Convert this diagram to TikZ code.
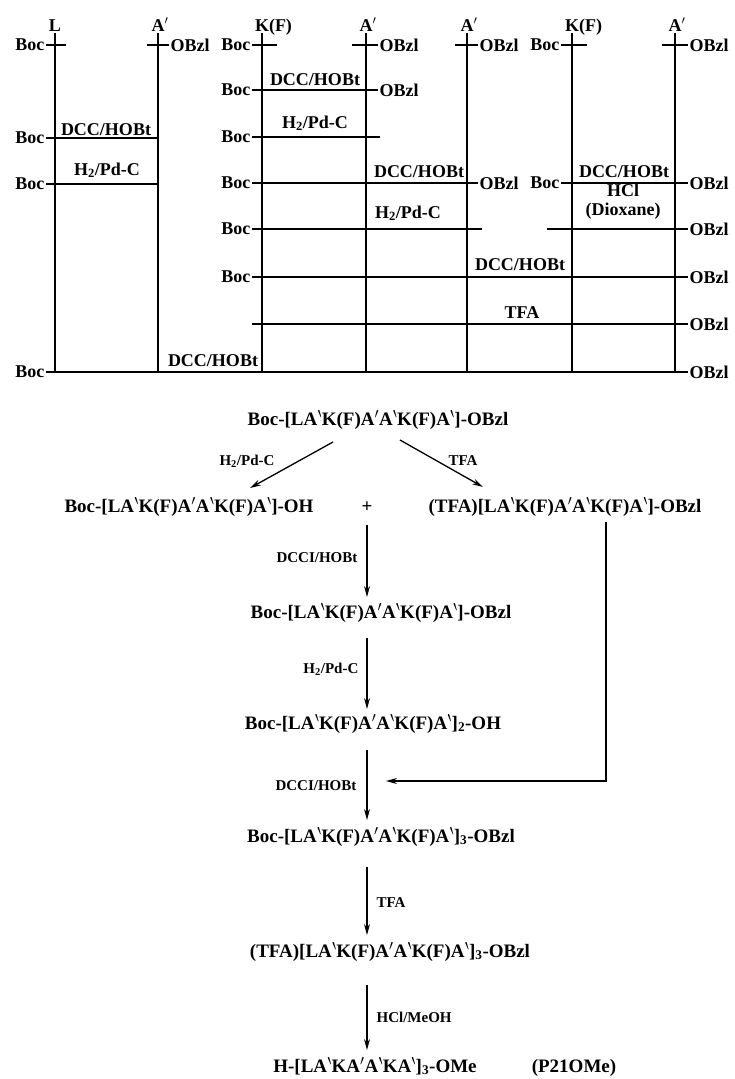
\documentclass[tikz,border=0pt]{standalone}
\usepackage{fontspec}
\usepackage{graphicx}
\setmainfont{Liberation Serif}
\usetikzlibrary{arrows.meta,calc}
\newcommand{\prm}{\ensuremath{{}^{\prime}}}
\newcommand{\rprm}{\reflectbox{\ensuremath{{}^{\prime}}}}
\newcommand{\pseq}{LA\rprm K(F)A\prm A\rprm K(F)A\rprm}
\begin{document}
\begin{tikzpicture}[x=1pt,y=-1pt,line width=1.3pt,
  every node/.style={inner sep=1pt,font=\fontsize{18}{20}\selectfont\bfseries},
  hd/.style={anchor=base},
  lab/.style={anchor=base},
  boc/.style={anchor=east},
  obz/.style={anchor=west},
  cmp/.style={anchor=base,font=\fontsize{19}{21}\selectfont\bfseries},
  rg/.style={anchor=base,font=\fontsize{15}{17}\selectfont\bfseries},
  arr/.style={line width=1.3pt,-{Stealth[length=11pt,width=6pt]}}]
\useasboundingbox (0,0) rectangle (735,1079);
% column headings and vertical lines
\foreach \n/\x/\t in {L/55/L,A1/158/A\rlap{\prm},K2/262/K\rlap{(F)},A2/366/A\rlap{\prm},A3/467/A\rlap{\prm},K3/572/K\rlap{(F)},A4/675/A\rlap{\prm}}{
  \node[hd] (h\n) at (\x,31) {\t};
  \coordinate (e\n) at (\x,372);
  \draw (\x,33) -- (e\n);
}
% top ticks
\node[boc] (bL0) at (46,45) {Boc}; \draw (bL0.east) -- (66,45);
\node[obz] (oA10) at (169,45) {OBzl}; \draw (147,45) -- (oA10.west);
\node[boc] (bK20) at (252,45) {Boc}; \draw (bK20.east) -- (277,45);
\node[obz] (oA20) at (378,45) {OBzl}; \draw (352,45) -- (oA20.west);
\node[obz] (oA30) at (478,45) {OBzl}; \draw (455,45) -- (oA30.west);
\node[boc] (bK30) at (561,45) {Boc}; \draw (bK30.east) -- (587,45);
\node[obz] (oA40) at (688,45) {OBzl}; \draw (662,45) -- (oA40.west);
% left block
\node[boc] (bL138) at (46,138) {Boc}; \draw (bL138.east) -- (eA1 |- bL138);
\node[boc] (bL184) at (46,184) {Boc}; \draw (bL184.east) -- (eA1 |- bL184);
\node[lab] at (106,135) {DCC/HOBt};
\node[lab] at (107,175) {H\textsubscript{2}/Pd-C};
% middle block
\node[boc] (b90) at (252,90) {Boc}; \node[obz] (o90) at (378,90) {OBzl}; \draw (b90.east) -- (o90.west);
\node[lab] at (315,85) {DCC/HOBt};
\node[boc] (b137) at (252,137) {Boc}; \draw (b137.east) -- (380,137);
\node[lab] at (315,128) {H\textsubscript{2}/Pd-C};
\node[boc] (b183) at (252,183) {Boc}; \node[obz] (o183) at (478,183) {OBzl}; \draw (b183.east) -- (o183.west);
\node[lab] at (419,177) {DCC/HOBt};
% right block
\node[boc] (bR183) at (561,183) {Boc}; \node[obz] (oR183) at (688,183) {OBzl}; \draw (bR183.east) -- (oR183.west);
\node[lab] at (624,177) {DCC/HOBt};
\node[lab] at (623,196) {HCl};
\node[lab] at (623,215) {(Dioxane)};
% lower rows
\node[boc] (b229) at (252,229) {Boc}; \draw (b229.east) -- (482,229);
\node[obz] (o229) at (688,229) {OBzl}; \draw (547,229) -- (o229.west);
\node[lab] at (408,218) {H\textsubscript{2}/Pd-C};
\node[boc] (b277) at (252,277) {Boc}; \node[obz] (o277) at (688,277) {OBzl}; \draw (b277.east) -- (o277.west);
\node[lab] at (520,270) {DCC/HOBt};
\node[obz] (o324) at (688,324) {OBzl}; \draw (252,324) -- (o324.west);
\node[lab] at (522,318) {TFA};
\node[boc] (b372) at (46,372) {Boc}; \node[obz] (o372) at (688,372) {OBzl}; \draw (b372.east) -- (o372.west);
\node[lab] at (213,366) {DCC/HOBt};
% lower scheme
\node[cmp] (c1) at (378,425) {Boc-[\pseq]-OBzl};
\node[cmp] (c2) at (189,512) {Boc-[\pseq]-OH};
\node[cmp] (plus) at (367,512) {+};
\node[cmp] (c3) at (565,512) {(TFA)[\pseq]-OBzl};
\node[cmp] (c4) at (381,618) {Boc-[\pseq]-OBzl};
\node[cmp] (c5) at (373,729) {Boc-[\pseq]\textsubscript{2}-OH};
\node[cmp] (c6) at (381,842) {Boc-[\pseq]\textsubscript{3}-OBzl};
\node[cmp] (c7) at (390,957) {(TFA)[\pseq]\textsubscript{3}-OBzl};
\node[cmp] (c8) at (375,1072) {H-[LA\rprm KA\prm A\rprm KA\rprm]\textsubscript{3}-OMe};
\node[cmp] (p21) at (574,1072) {(P21OMe)};
% arrow end points
\coordinate (s1) at (333,442); \coordinate (t1) at (250,488);
\coordinate (s2) at (400,440); \coordinate (t2) at (483,487);
\coordinate (s3) at (367,525); \coordinate (t3) at (367,597);
\coordinate (s4) at (367,638); \coordinate (t4) at (367,709);
\coordinate (s5) at (367,750); \coordinate (t5) at (367,820);
\coordinate (s6) at (367,867); \coordinate (t6) at (367,935);
\coordinate (s7) at (367,985); \coordinate (t7) at (367,1050);
\coordinate (fs) at (606,522); \coordinate (fc) at (606,781); \coordinate (fe) at (386,781);
\draw[arr] (s1) -- (t1);
\draw[arr] (s2) -- (t2);
\draw[arr] (s3) -- (t3);
\draw[arr] (s4) -- (t4);
\draw[arr] (s5) -- (t5);
\draw[arr] (s6) -- (t6);
\draw[arr] (s7) -- (t7);
\draw[arr] (fs) -- (fc) -- (fe);
\node[rg] at (247,465) {H\textsubscript{2}/Pd-C};
\node[rg] at (463,465) {TFA};
\node[rg,anchor=base east] at (359,562) {DCCI/HOBt};
\node[rg,anchor=base east] at (360,673) {H\textsubscript{2}/Pd-C};
\node[rg,anchor=base east] at (358,790) {DCCI/HOBt};
\node[rg,anchor=base west] at (375,907) {TFA};
\node[rg,anchor=base west] at (375,1022) {HCl/MeOH};
\end{tikzpicture}
\end{document}
